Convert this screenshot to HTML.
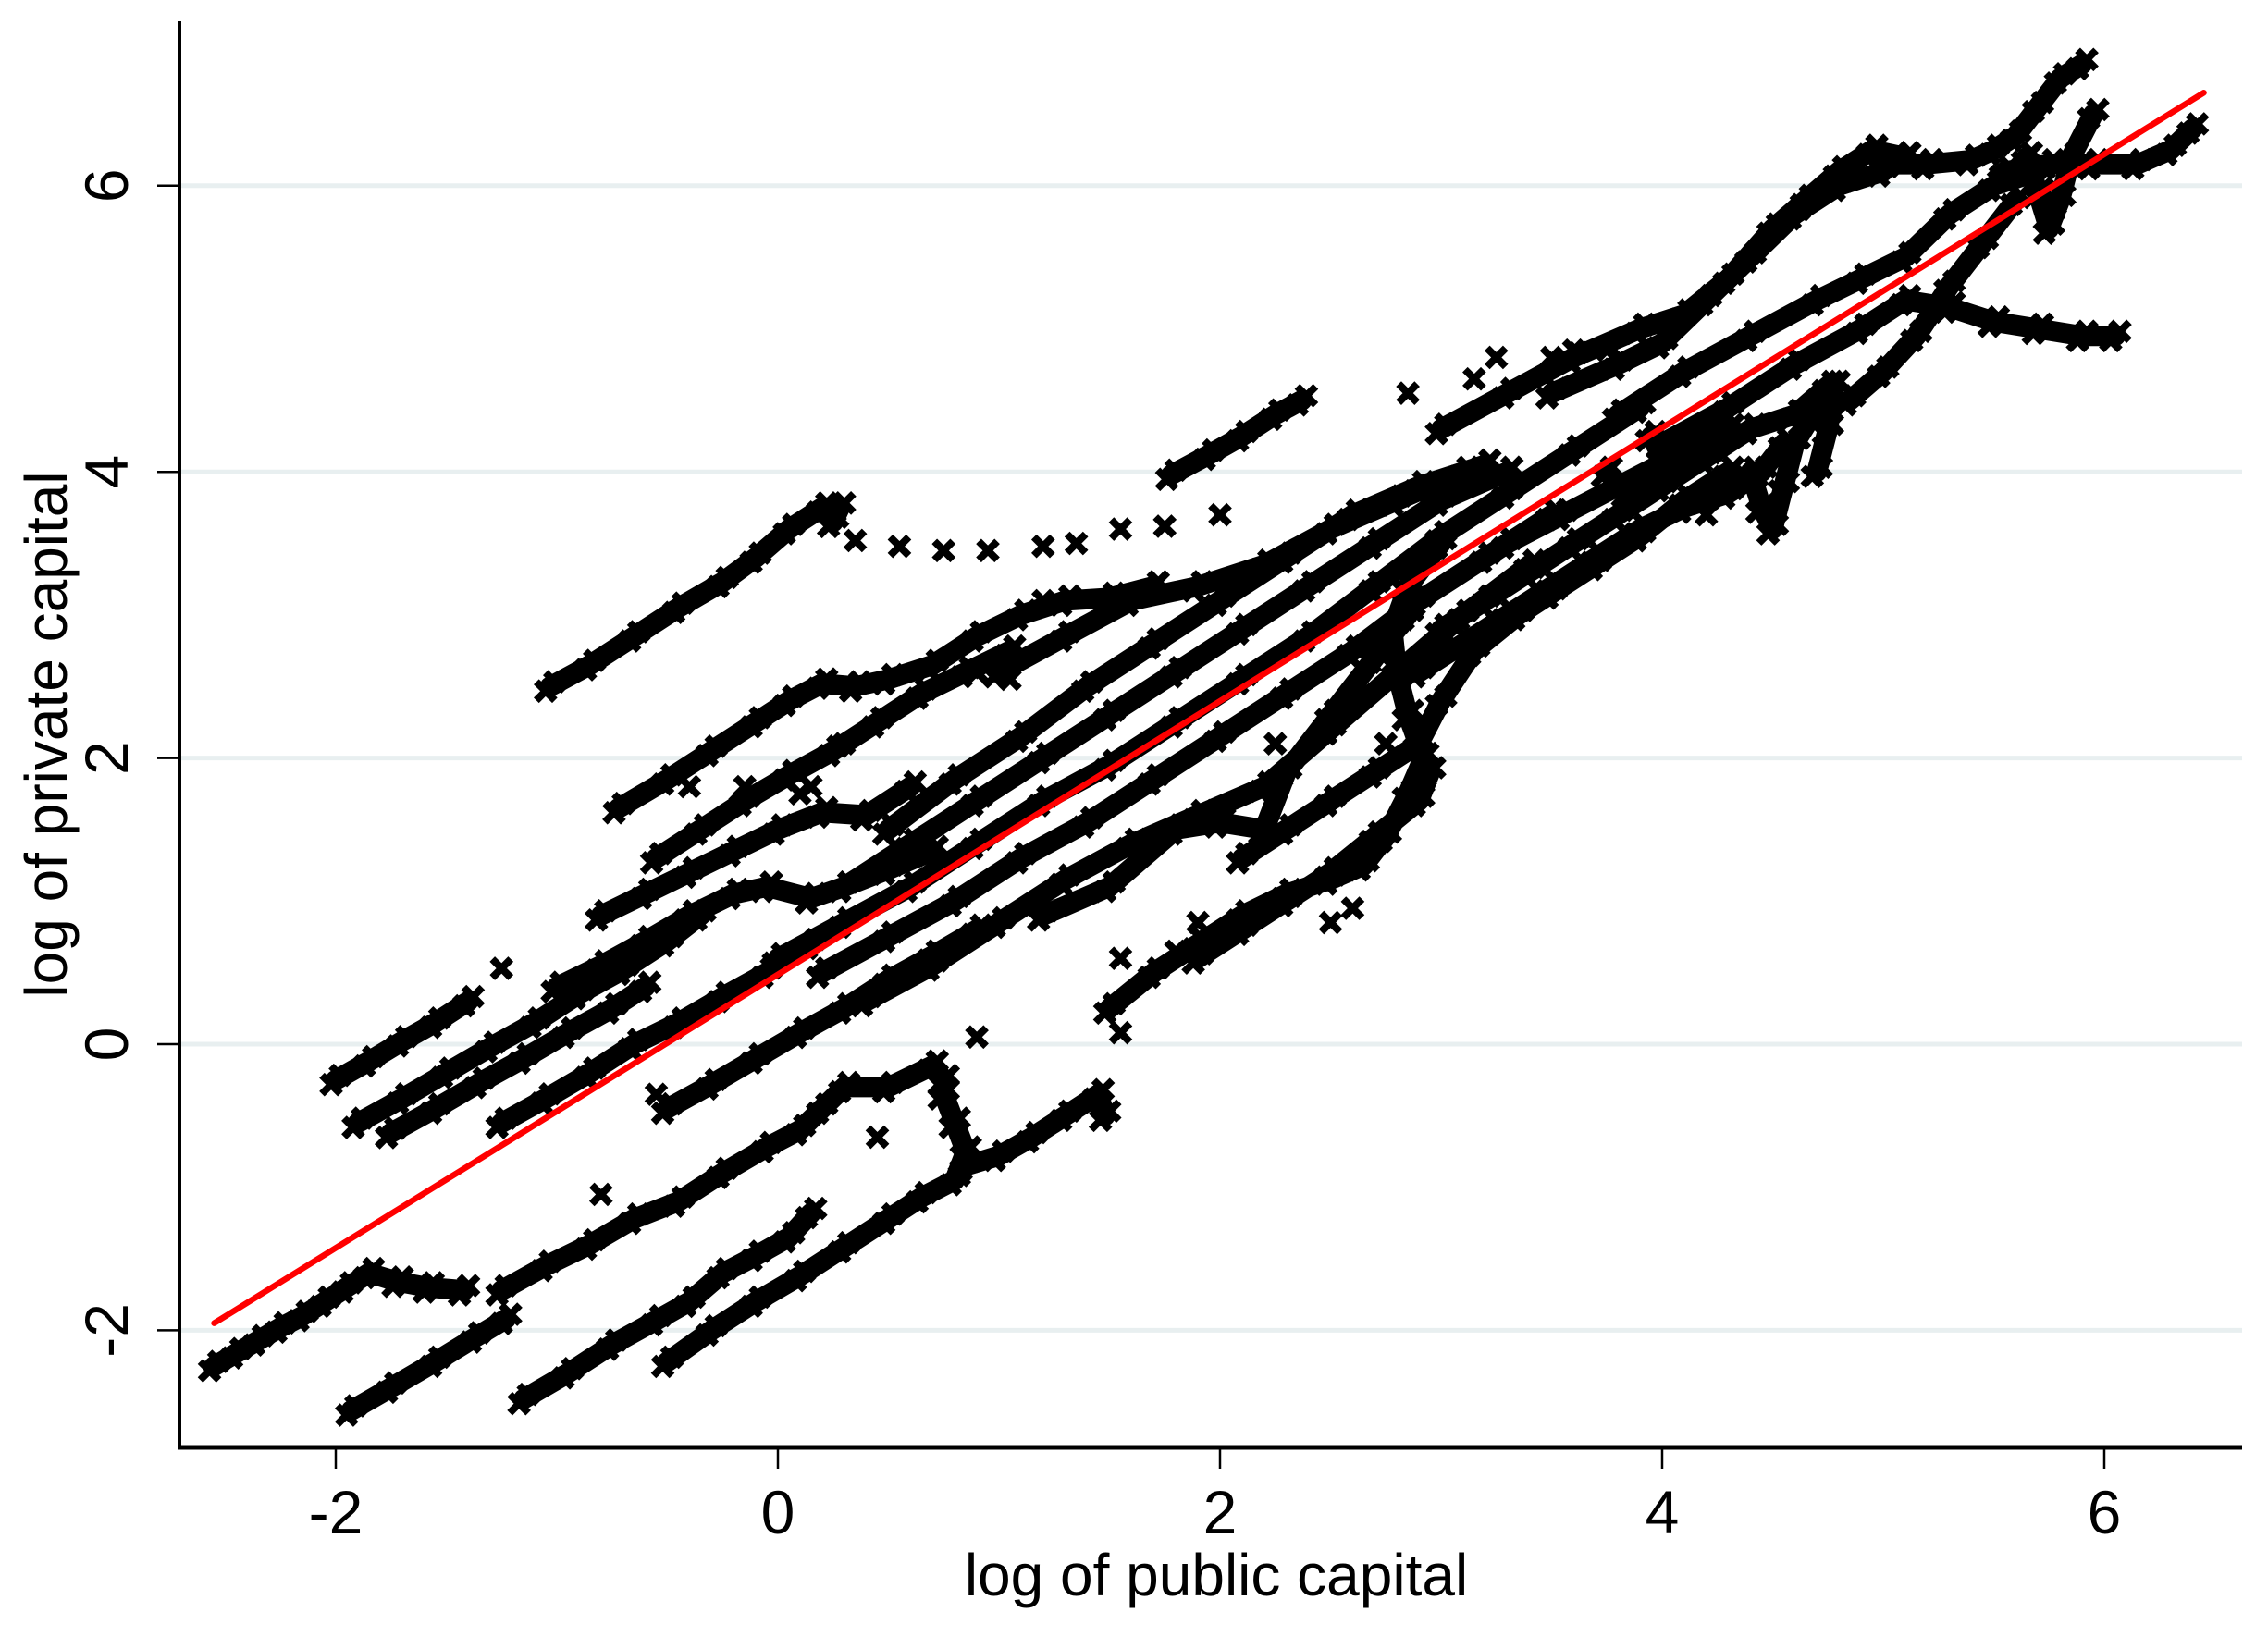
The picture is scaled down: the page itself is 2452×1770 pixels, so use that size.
<!DOCTYPE html>
<html><head><meta charset="utf-8"><style>
html,body{margin:0;padding:0;background:#fff;}
svg{display:block;}
text{font-family:"Liberation Sans",sans-serif;fill:#000;}
</style></head><body>
<svg id="chart" width="2452" height="1770" viewBox="0 0 2452 1770" xmlns="http://www.w3.org/2000/svg">
<rect width="2452" height="1770" fill="#fff"/>
<g id="grid"></g>
<g id="tracks"></g>
<g id="fit"></g>
<g id="axes"></g>
<text x="1315" y="1725" font-size="64" text-anchor="middle">log of public capital</text>
<text x="0" y="0" font-size="64" text-anchor="middle" transform="translate(72,794) rotate(-90)">log of private capital</text>
</svg>
<script>
const xTicks = [-2, 0, 2, 4, 6];
const yTicks = [-2, 0, 2, 4, 6];
const xTickLabels = ["-2", "0", "2", "4", "6"];
const yTickLabels = ["-2", "0", "2", "4", "6"];
const fitX = [-2.55, 6.45];
const fitY = [-1.95, 6.65];
const tracks = [
 [[-2.55,-2.25],[-2.45,-2.16],[-2.35,-2.07],[-2.25,-1.98],[-2.15,-1.9],[-2.05,-1.8],[-1.95,-1.7],[-1.85,-1.6],[-1.72,-1.66],[-1.58,-1.7],[-1.42,-1.72]],
 [[-1.93,-2.56],[-1.75,-2.4],[-1.55,-2.22],[-1.37,-2.05],[-1.23,-1.92]],
 [[-1.15,-2.48],[-0.95,-2.3],[-0.75,-2.1],[-0.55,-1.93],[-0.4,-1.8],[-0.25,-1.6],[-0.1,-1.48],[0.05,-1.35],[0.15,-1.18]],
 [[-0.5,-2.22],[-0.3,-2.0],[-0.1,-1.8],[0.1,-1.62],[0.3,-1.42],[0.5,-1.22],[0.65,-1.07],[0.8,-0.95],[0.85,-0.75],[0.8,-0.55],[0.75,-0.35]],
 [[0.85,-0.85],[1.0,-0.78],[1.15,-0.65],[1.3,-0.5],[1.45,-0.35],[1.48,-0.5]],
 [[-1.25,-1.72],[-1.05,-1.55],[-0.85,-1.4],[-0.65,-1.22],[-0.45,-1.1],[-0.25,-0.9],[-0.05,-0.72],[0.1,-0.6],[0.2,-0.45],[0.3,-0.3],[0.5,-0.3],[0.7,-0.15],[0.75,-0.25]],
 [[-2.0,-0.25],[-1.85,-0.12],[-1.7,0.02],[-1.55,0.15],[-1.4,0.3]],
 [[-1.9,-0.55],[-1.7,-0.38],[-1.5,-0.2],[-1.3,-0.02],[-1.1,0.15],[-0.9,0.35],[-0.7,0.52],[-0.5,0.72],[-0.35,0.9]],
 [[-1.75,-0.62],[-1.55,-0.45],[-1.35,-0.27],[-1.15,-0.1],[-0.95,0.08],[-0.75,0.25],[-0.6,0.4]],
 [[-1.25,-0.55],[-1.05,-0.38],[-0.85,-0.2],[-0.65,0.0],[-0.45,0.15],[-0.25,0.33],[-0.05,0.5],[0.15,0.7]],
 [[-0.5,-0.45],[-0.3,-0.28],[-0.1,-0.1],[0.1,0.08],[0.3,0.25],[0.5,0.45],[0.7,0.62],[0.9,0.8]],
 [[-1.0,0.4],[-0.8,0.55],[-0.6,0.72],[-0.4,0.9],[-0.2,1.05],[-0.05,1.1],[0.15,1.02],[0.3,1.1],[0.5,1.22],[0.7,1.35]],
 [[-0.8,0.9],[-0.6,1.05],[-0.4,1.2],[-0.2,1.35],[0.0,1.5],[0.2,1.62],[0.4,1.6],[0.6,1.8]],
 [[-1.03,2.5],[-0.85,2.65],[-0.65,2.85],[-0.45,3.05],[-0.25,3.23],[-0.1,3.4],[0.05,3.6],[0.2,3.75],[0.28,3.75],[0.25,3.65]],
 [[-0.72,1.65],[-0.5,1.85],[-0.3,2.05],[-0.1,2.25],[0.05,2.4],[0.2,2.52],[0.35,2.5],[0.5,2.55],[0.7,2.65],[0.9,2.85],[1.1,3.0],[1.3,3.1],[1.5,3.12],[1.7,3.2]],
 [[-0.55,1.3],[-0.35,1.5],[-0.15,1.7],[0.05,1.88],[0.25,2.05],[0.45,2.25],[0.65,2.45],[0.85,2.6],[1.05,2.75]],
 [[1.78,3.98],[1.95,4.12],[2.1,4.25],[2.25,4.4],[2.37,4.5]],
 [[0.0,0.6],[0.3,0.85],[0.6,1.1],[0.9,1.4],[1.2,1.7],[1.5,1.95],[1.8,2.25],[2.1,2.55],[2.4,2.85],[2.7,3.2],[3.0,3.55],[3.3,3.85],[3.6,4.15],[3.9,4.45]],
 [[0.2,0.5],[0.5,0.75],[0.8,1.0],[1.1,1.3],[1.4,1.55],[1.7,1.85],[2.0,2.15],[2.3,2.45],[2.6,2.75],[2.9,3.1],[3.2,3.4],[3.5,3.7]],
 [[0.3,1.1],[0.6,1.4],[0.9,1.7],[1.2,2.0],[1.5,2.3],[1.8,2.6],[2.1,2.9],[2.4,3.2],[2.7,3.5],[3.0,3.8],[3.3,4.0]],
 [[0.5,1.5],[0.8,1.85],[1.1,2.15],[1.4,2.5],[1.7,2.8],[2.0,3.1],[2.3,3.4],[2.6,3.7],[2.9,3.9],[3.2,4.05]],
 [[1.0,2.6],[1.3,2.85],[1.6,3.1],[1.9,3.2],[2.2,3.35],[2.5,3.6],[2.8,3.8],[3.1,4.0]],
 [[0.4,0.3],[0.7,0.55],[1.0,0.85],[1.3,1.15],[1.6,1.4],[1.9,1.6],[2.2,1.8],[2.5,2.2],[2.8,2.6],[3.1,3.0],[3.4,3.35]],
 [[1.2,0.9],[1.5,1.1],[1.8,1.5],[2.0,1.55],[2.2,1.5],[2.3,1.9],[2.5,2.3],[2.7,2.7],[2.85,3.0]],
 [[1.5,0.25],[1.7,0.5],[1.9,0.7],[2.1,0.9],[2.3,1.05],[2.5,1.15],[2.65,1.25],[2.75,1.45],[2.85,1.75],[2.92,2.0],[2.85,2.3],[2.8,2.6],[2.78,2.9],[2.85,3.2],[3.0,3.5]],
 [[1.9,0.6],[2.1,0.8],[2.3,1.0],[2.5,1.2],[2.7,1.45],[2.9,1.7],[2.95,1.9]],
 [[2.1,1.3],[2.3,1.5],[2.5,1.7],[2.7,1.9],[2.9,2.1],[3.0,2.4],[3.15,2.75],[3.35,3.0],[3.5,3.15],[3.7,3.35],[3.9,3.55],[4.1,3.8],[4.3,4.0]],
 [[2.9,2.6],[3.1,2.8],[3.3,3.0],[3.5,3.2],[3.7,3.4],[3.9,3.6],[4.1,3.75],[4.3,3.85],[4.45,4.0],[4.55,4.2]],
 [[3.0,2.9],[3.2,3.1],[3.4,3.3],[3.6,3.5],[3.8,3.7],[4.0,3.9],[4.2,4.1],[4.4,4.3],[4.6,4.4],[4.75,4.6]],
 [[4.4,4.0],[4.45,3.75],[4.5,3.6],[4.55,3.9],[4.6,4.2],[4.7,4.45],[4.78,4.6],[4.75,4.3],[4.7,4.0]],
 [[3.75,4.0],[3.85,3.85],[3.95,3.9],[4.0,4.1],[3.95,4.25]],
 [[3.0,4.3],[3.3,4.55],[3.6,4.8],[3.9,5.0],[4.1,5.1],[4.3,5.35],[4.5,5.7],[4.65,5.9],[4.8,6.1],[4.95,6.25],[5.1,6.2]],
 [[3.5,4.55],[3.8,4.75],[4.0,4.9],[4.2,5.2],[4.4,5.5],[4.6,5.8],[4.8,6.0],[5.0,6.1]],
 [[5.0,6.15],[5.2,6.15],[5.4,6.18],[5.5,6.25],[5.6,6.35],[5.7,6.55],[5.8,6.75],[5.9,6.85]],
 [[5.55,6.1],[5.75,6.15],[5.95,6.15],[6.15,6.15],[6.3,6.25],[6.4,6.4]],
 [[5.65,6.2],[5.7,5.95],[5.75,5.7],[5.8,5.9],[5.85,6.2],[5.95,6.5]],
 [[3.8,4.4],[4.1,4.7],[4.4,4.95],[4.7,5.2],[4.9,5.35],[5.1,5.5],[5.3,5.8],[5.5,6.0],[5.7,6.1]],
 [[4.0,4.2],[4.3,4.45],[4.6,4.75],[4.9,5.0],[5.1,5.2],[5.3,5.15]],
 [[4.85,4.5],[5.0,4.7],[5.15,4.95],[5.3,5.3],[5.45,5.6],[5.6,5.9]],
 [[5.3,5.15],[5.5,5.05],[5.7,5.0],[5.9,4.95],[6.05,4.95]],
 [[3.3,3.5],[3.55,3.7],[3.8,3.9],[4.05,4.1],[4.3,4.3]]
];
const looseX = [0.35,0.55,0.75,0.95,1.2,1.35,1.55,1.75,-1.25,1.55,1.55,0.9,1.8,1.9,2.5,2.6,2.75,2.25,2.85,3.15,3.25,3.5,0.3,0.9,1.05,-0.8,-0.4,0.15,1.2,-0.55,0.45,3.6,3.75,4.2,-0.15,0.1,2.0];
const looseY = [3.52,3.48,3.45,3.45,3.48,3.5,3.6,3.62,0.53,0.08,0.6,0.05,0.65,0.85,0.85,0.95,2.1,2.1,4.55,4.65,4.8,4.8,2.1,2.6,2.55,-1.05,1.8,1.8,3.1,-0.35,-0.65,4.85,4.85,3.7,1.8,1.75,3.7];

const NS = "http://www.w3.org/2000/svg";
const X0 = 841, XU = 239, Y0 = 1129, YU = 154.7;
function sx(v){ return X0 + XU * v; }
function sy(v){ return Y0 - YU * v; }
function mk(tag, attrs, parent){
  const e = document.createElementNS(NS, tag);
  for (const k in attrs) e.setAttribute(k, attrs[k]);
  parent.appendChild(e);
  return e;
}
const grid = document.getElementById('grid');
yTicks.forEach(function(t){
  const l = mk('line', {x1:196, x2:2424, y1:sy(t), y2:sy(t), stroke:'#e8eff0', 'stroke-width':5}, grid);
  
  
});
const tg = document.getElementById('tracks');
function marker(x, y){
  const p = mk('path', {d:'M'+(x-10)+','+(y-10)+'L'+(x+10)+','+(y+10)+'M'+(x-10)+','+(y+10)+'L'+(x+10)+','+(y-10), stroke:'#000', 'stroke-width':8, fill:'none'}, tg);
  
  
}
tracks.forEach(function(tr){
  const d = tr.map(function(p, i){ return (i ? 'L' : 'M') + sx(p[0]) + ',' + sy(p[1]); }).join('');
  const pl = mk('path', {d:d, stroke:'#000', 'stroke-width':22, fill:'none', 'stroke-linejoin':'round', 'stroke-linecap':'round'}, tg);
  
  
  tr.forEach(function(p){ marker(sx(p[0]) - 5, sy(p[1]) + 5); marker(sx(p[0]) + 5, sy(p[1]) - 5); });
});
looseX.forEach(function(v, i){ marker(sx(v), sy(looseY[i])); });
const fg = document.getElementById('fit');
const fl = mk('line', {x1:sx(fitX[0]), y1:sy(fitY[0]), x2:sx(fitX[1]), y2:sy(fitY[1]), stroke:'#ff0000', 'stroke-width':6.5, 'stroke-linecap':'round'}, fg);


const ax = document.getElementById('axes');
const ya = mk('line', {x1:194, x2:194, y1:23, y2:1567, stroke:'#000', 'stroke-width':4}, ax);


const xa = mk('line', {x1:192, x2:2424, y1:1565, y2:1565, stroke:'#000', 'stroke-width':5}, ax);


xTicks.forEach(function(t, i){
  const l = mk('line', {x1:sx(t), x2:sx(t), y1:1567, y2:1588, stroke:'#000', 'stroke-width':2.5}, ax);
  
  
  const tx = mk('text', {x:sx(t), y:1658, 'font-size':66, 'text-anchor':'middle'}, ax);
  tx.textContent = xTickLabels[i];
  
  
});
yTicks.forEach(function(t, i){
  const l = mk('line', {x1:170, x2:193, y1:sy(t), y2:sy(t), stroke:'#000', 'stroke-width':2.5}, ax);
  
  
  const tx = mk('text', {x:0, y:0, 'font-size':66, 'text-anchor':'middle', transform:'translate(138,'+sy(t)+') rotate(-90)'}, ax);
  tx.textContent = yTickLabels[i];
  
  
});
</script>
</body></html>
